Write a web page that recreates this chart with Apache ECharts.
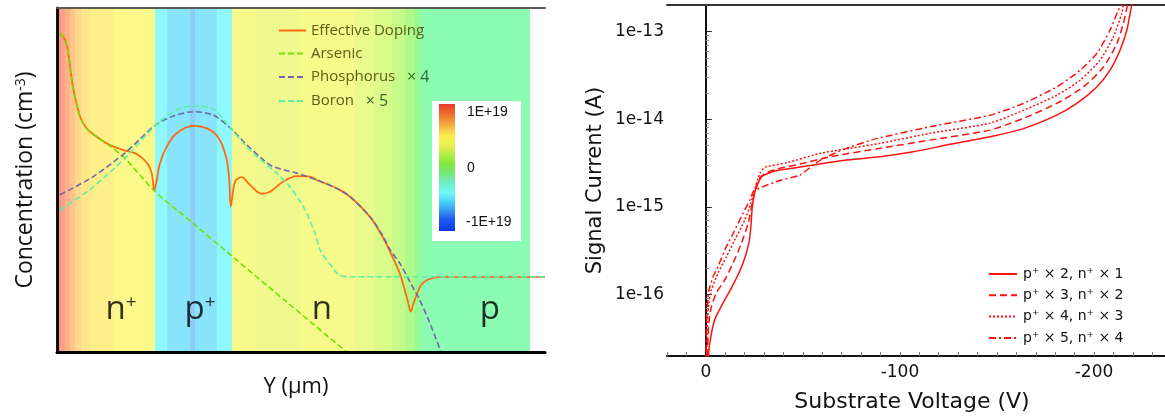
<!DOCTYPE html>
<html>
<head>
<meta charset="utf-8">
<script src="https://cdn.jsdelivr.net/npm/echarts@6/dist/echarts.min.js"></script>
<style>
  html, body { margin: 0; padding: 0; background: #fff; }
  #chart { width: 1165px; height: 417px; }
</style>
</head>
<body>
<div id="chart"></div>
<script>
// ---- left panel: doping profile, x in um, y = log10(concentration)
const effX = [0.031, 0.082, 0.116, 0.151, 0.184, 0.236, 0.304, 0.407, 0.543, 0.679, 0.817, 0.925, 0.970, 0.997,
  1.022, 1.055, 1.124, 1.226, 1.397, 1.568, 1.670, 1.739, 1.765, 1.780,
  1.824, 1.892, 1.977, 2.097, 2.182, 2.319, 2.456, 2.592, 2.661, 2.866, 3.002, 3.207, 3.343, 3.443, 3.514,
  3.555, 3.596, 3.624, 3.648, 3.678, 3.730, 3.807, 3.954, 5.0]
const effY = [20.49, 20.35, 20.08, 19.54, 19.20, 18.79, 18.55, 18.38, 18.21, 18.11, 18.03, 17.84, 17.64, 17.28,
  17.50, 17.84, 18.18, 18.45, 18.60, 18.52, 18.31, 17.91, 17.50, 16.96,
  17.47, 17.56, 17.40, 17.22, 17.26, 17.47, 17.58, 17.57, 17.50, 17.33, 17.16, 16.75, 16.32, 15.91, 15.59,
  15.32, 15.02, 14.82, 14.96, 15.13, 15.36, 15.48, 15.53, 15.53]

const arsX = [0.031, 0.082, 0.116, 0.151, 0.184, 0.236, 0.304, 0.407, 0.543, 0.697, 0.997, 1.393, 1.793, 2.346, 2.961, 3.0]
const arsY = [20.49, 20.35, 20.08, 19.54, 19.20, 18.79, 18.55, 18.38, 18.19, 17.94, 17.28, 16.62, 15.95, 15.03, 14.01, 13.94]

const phosX = [0.031, 0.372, 0.714, 0.997, 1.192, 1.397, 1.602, 1.779, 1.943, 2.114, 2.216, 2.456, 2.661,
  2.866, 3.002, 3.207, 3.343, 3.412, 3.514, 3.624, 3.715, 3.807, 3.934, 3.955]
const phosY = [17.20, 17.57, 18.08, 18.60, 18.80, 18.89, 18.82, 18.55, 18.22, 17.91, 17.77, 17.64, 17.50,
  17.33, 17.16, 16.75, 16.35, 16.08, 15.80, 15.40, 15.06, 14.65, 14.01, 13.92]

const borX = [0.031, 0.372, 0.714, 0.997, 1.192, 1.397, 1.602, 1.779, 1.943, 2.046, 2.251, 2.387, 2.524, 2.643,
  2.695, 2.818, 2.890, 3.002, 5.0]
const borY = [16.89, 17.36, 17.98, 18.59, 18.89, 19.01, 18.94, 18.55, 18.18, 17.98, 17.64, 17.36, 16.96, 16.42,
  16.08, 15.73, 15.57, 15.53, 15.53]

const dopingNames = ['Effective Doping', 'Arsenic', 'Phosphorus', 'Boron']
const dopingFactor = ['', '', '× 4', '× 5']

// background bands (edges in um) and their colours
const bandEdges = [0, 0.041, 0.082, 0.133, 0.184, 0.246, 0.338, 0.574, 1.004, 1.127, 1.363, 1.414, 1.639, 1.793,
  2.029, 2.49, 3.053, 3.258, 3.432, 3.566, 3.668, 3.74, 4.846]
const bandColors = ['#ff9282', '#ffa088', '#ffb28a', '#ffc48a', '#ffd88a', '#ffe68b', '#fdef8a', '#fbf98a',
  '#8ef8fb', '#88e4fa', '#8ccdf8', '#88e4fa', '#8ef8fb', '#f7fa8a', '#f0f98e', '#f5fa8a', '#e8fb8c',
  '#d8fb8a', '#c6fb8a', '#aefb8a', '#95fb98', '#8cfbb4']

const regionNames = ['n+', 'p+', 'n', 'p']
const regionX = [0.656, 1.465, 2.715, 4.436]
const regionY = [14.87, 14.87, 14.87, 14.87]

// ---- right panel: signal current vs substrate voltage
const curveNames = ['p⁺ × 2, n⁺ × 1', 'p⁺ × 3, n⁺ × 2', 'p⁺ × 4, n⁺ × 3', 'p⁺ × 5, n⁺ × 4']
const v1 = [-0.8, -2.1, -4.6, -8.9, -14.1, -19.2, -22.2, -23.2, -23.9, -25.3, -28.7, -33.9, -38.1, -55.3, -72.5,
  -89.7, -106.9, -124.1, -146.4, -163.6, -180.8, -191.1, -201.4, -208.2, -213.4, -216.9, -218.6, -219.4, -220.5]
const i1 = [1.5e-17, 2.85e-17, 5.2e-17, 8.05e-17, 1.3e-16, 2.3e-16, 3.9e-16, 5.9e-16, 9.7e-16, 1.5e-15, 2.2e-15,
  2.5e-15, 2.63e-15, 3.0e-15, 3.42e-15, 3.73e-15, 4.25e-15, 5.07e-15, 6.3e-15, 7.8e-15, 1.11e-14, 1.51e-14,
  2.33e-14, 3.6e-14, 6.1e-14, 1.03e-13, 1.6e-13, 2.0e-13, 3e-13]
const v2 = [-0.5, -1.55, -2.94, -5.5, -9.8, -14.1, -18.4, -21.8, -23.9, -25.3, -27, -30.4, -36.4, -50.2, -63.9,
  -89.7, -115.5, -146.4, -163.6, -180.8, -194.5, -204.8, -211.7, -215.1, -217.2, -218.3]
const i2 = [1.5e-17, 4.8e-17, 7.4e-17, 1.05e-16, 1.48e-16, 2.3e-16, 3.9e-16, 6.5e-16, 1.1e-15, 1.5e-15, 2.03e-15,
  2.4e-15, 2.69e-15, 3.14e-15, 3.73e-15, 4.65e-15, 5.77e-15, 7.5e-15, 1.02e-14, 1.51e-14, 2.33e-14, 3.9e-14,
  7.2e-14, 1.23e-13, 2.0e-13, 3e-13]
const v3 = [-0.3, -0.88, -1.55, -2.94, -6.34, -10.7, -14.9, -20.1, -23.2, -24.9, -27.8, -30.4, -41.6, -58.8,
  -89.7, -115.5, -146.4, -163.6, -180.8, -192.8, -203.1, -209.9, -214.3, -215.1, -216.2]
const i3 = [1.5e-17, 4.8e-17, 8.05e-17, 1.14e-16, 1.77e-16, 2.72e-16, 4.2e-16, 7.1e-16, 1.1e-15, 1.5e-15, 2.4e-15,
  2.83e-15, 3.18e-15, 4.07e-15, 5.3e-15, 6.9e-15, 9.0e-15, 1.26e-14, 1.87e-14, 2.77e-14, 4.7e-14, 8.6e-14,
  1.6e-13, 2.0e-13, 3e-13]
const v4 = [0, -0.36, -0.88, -1.7, -3.76, -6.34, -9.8, -14.1, -19.2, -22.7, -24.9, -38.1, -48.5, -55.3, -60.5,
  -72.5, -88, -115.5, -146.4, -163.6, -180.8, -192.8, -201.4, -208.2, -212.5, -213.8, -214.8]
const i4 = [1.5e-17, 4.8e-17, 8.05e-17, 1.14e-16, 1.61e-16, 2.1e-16, 3.25e-16, 5.0e-16, 8.5e-16, 1.2e-15, 1.53e-15,
  2.0e-15, 2.31e-15, 3.0e-15, 3.57e-15, 4.65e-15, 6.0e-15, 8.2e-15, 1.11e-14, 1.51e-14, 2.33e-14, 3.6e-14,
  5.6e-14, 1.03e-13, 1.74e-13, 2.0e-13, 3e-13]
const curveDash = ['solid', [7, 4], [2, 2], [7, 3, 2, 3]]

const currentTicks = [1e-13, 1e-14, 1e-15, 1e-16]
const voltageLabels = [0, -100, -200]
const voltageTicks = []
for (let v = 20; v >= -230; v -= 10) voltageTicks.push(v)
const minorCurrentTicks = []
for (let d = -17; d <= -13; d++) {
  for (let k = 2; k <= 9; k++) {
    const t = k * Math.pow(10, d)
    if (t > 2e-17 && t < 2e-13) minorCurrentTicks.push(t)
  }
}

const zip = (xs, ys) => xs.map((x, i) => [x, ys[i]])

let chart = echarts.init(document.getElementById('chart'))

const bands = bandColors.map((c, i) => [
  { xAxis: bandEdges[i], itemStyle: { color: c, opacity: 1 } },
  { xAxis: bandEdges[i + 1] }
])

const barStops = [
  [0, '#e83c28'], [0.05, '#ec5a2c'], [0.1, '#f27a32'], [0.15, '#f5a040'], [0.2, '#f8c84a'],
  [0.26, '#f8ee50'], [0.33, '#e8f050'], [0.4, '#b0ec48'], [0.47, '#80e840'], [0.55, '#74e878'],
  [0.62, '#70eec8'], [0.7, '#70f8f8'], [0.77, '#48d0f8'], [0.84, '#3898f0'], [0.9, '#2060f0'], [1, '#0c38f0']
]

const legendText = '#5c5c14'
const sans = 'Open Sans'

chart.setOption({
  animation: false,
  grid: [
    { left: 57, top: 8, width: 488, height: 344, outerBoundsMode: 'none' },
    { left: 667, top: 5, width: 500, height: 351, outerBoundsMode: 'none' }
  ],
  xAxis: [
    {
      gridIndex: 0, type: 'value', min: 0, max: 5, z: 5,
      axisLine: { lineStyle: { color: '#000', width: 3 } },
      axisTick: { show: false }, axisLabel: { show: false }, splitLine: { show: false },
      name: 'Y (µm)', nameLocation: 'middle', nameGap: 24, nameMoveOverlap: false,
      nameTextStyle: { fontSize: 22, fontFamily: sans, color: '#111', padding: [0, 10, 0, 0] }
    },
    {
      gridIndex: 0, type: 'value', min: 0, max: 5, position: 'top', z: 5,
      axisLine: { lineStyle: { color: '#5a5a50', width: 2 } },
      axisTick: { show: false }, axisLabel: { show: false }, splitLine: { show: false }
    },
    {
      gridIndex: 1, type: 'value', min: -237.6, max: 20, inverse: true,
      axisLine: { lineStyle: { color: '#111', width: 2 } },
      axisTick: { inside: true, length: 4, customValues: voltageTicks, lineStyle: { color: '#777' } },
      axisLabel: { customValues: voltageLabels, margin: 8, fontSize: 17, fontFamily: 'DejaVu Sans', color: '#111',
        formatter: v => String(v) },
      splitLine: { show: false },
      name: 'Substrate Voltage (V)', nameLocation: 'middle', nameGap: 35, nameMoveOverlap: false,
      nameTextStyle: { fontSize: 22, fontFamily: 'DejaVu Sans', color: '#111', padding: [0, 10, 0, 0] }
    },
    {
      gridIndex: 1, type: 'value', min: -237.6, max: 20, inverse: true, position: 'top',
      axisLine: { lineStyle: { color: '#333', width: 2 } },
      axisTick: { show: false }, axisLabel: { show: false }, splitLine: { show: false }
    }
  ],
  yAxis: [
    {
      gridIndex: 0, type: 'value', min: 14, max: 21, z: 5,
      axisLine: { lineStyle: { color: '#000', width: 3 } },
      axisTick: { show: false }, axisLabel: { show: false }, splitLine: { show: false },
      name: 'Concentration (cm{sup|-3})', nameLocation: 'middle', nameGap: 20, nameMoveOverlap: false,
      nameTextStyle: { fontSize: 23, fontFamily: sans, color: '#111',
        rich: { sup: { fontSize: 14, fontFamily: sans, color: '#111', verticalAlign: 'top' } } }
    },
    {
      gridIndex: 0, type: 'value', min: 14, max: 21, position: 'right', z: 5,
      axisLine: { lineStyle: { color: '#111', width: 2 } },
      axisTick: { show: false }, axisLabel: { show: false }, splitLine: { show: false }
    },
    {
      gridIndex: 1, type: 'log', logBase: 10, min: 2e-17, max: 2e-13, position: 'left',
      axisLine: { lineStyle: { color: '#111', width: 2 } },
      axisTick: { inside: true, length: 6, customValues: currentTicks, lineStyle: { color: '#222' } },
      axisLabel: { customValues: currentTicks, margin: 3, fontSize: 17, fontFamily: 'DejaVu Sans', color: '#111',
        formatter: v => Number(v).toExponential(0).replace('+', '') },
      splitLine: { show: false },
      name: 'Signal Current (A)', nameLocation: 'middle', nameGap: 61, nameMoveOverlap: false,
      nameTextStyle: { fontSize: 21, fontFamily: 'DejaVu Sans', color: '#111' }
    },
    {
      gridIndex: 1, type: 'log', logBase: 10, min: 2e-17, max: 2e-13, position: 'left',
      axisLine: { show: false },
      axisTick: { inside: true, length: 3, customValues: minorCurrentTicks, lineStyle: { color: '#888' } },
      axisLabel: { show: false }, splitLine: { show: false }
    }
  ],
  legend: [
    {
      data: dopingNames, orient: 'vertical', left: 273, top: 18, itemWidth: 27, itemHeight: 14, itemGap: 8,
      itemStyle: { opacity: 0 },
      textStyle: { color: legendText, fontSize: 15, fontFamily: sans,
        rich: { m: { color: '#2f6a28', fontSize: 16, fontFamily: sans } } },
      formatter: name => {
        const f = dopingFactor[dopingNames.indexOf(name)]
        return f ? name + '   {m|' + f + '}' : name
      }
    },
    {
      data: curveNames, orient: 'vertical', left: 983, top: 262, itemWidth: 28, itemHeight: 14, itemGap: 7.3,
      itemStyle: { opacity: 0 },
      textStyle: { color: '#111', fontSize: 14, fontFamily: 'DejaVu Sans', padding: [0, 0, 0, 1] }
    }
  ],
  visualMap: [
    { type: 'piecewise', show: false, seriesIndex: 0, dimension: 0,
      pieces: [{ lt: 0.997, color: '#ff6a10' }, { gte: 0.997, lt: 1.78, color: '#8c6464' }, { gte: 1.78, color: '#ff6a10' }] },
    { type: 'piecewise', show: false, seriesIndex: 2, dimension: 0,
      pieces: [{ lt: 0.3, color: '#6a2c90' }, { gte: 0.3, lt: 0.997, color: '#7a6a9e' }, { gte: 0.997, lt: 1.79, color: '#2a5ee0' },
        { gte: 1.79, lt: 3.43, color: '#6e68a8' }, { gte: 3.43, color: '#2a6ad0' }] },
    { type: 'piecewise', show: false, seriesIndex: 3, dimension: 0,
      pieces: [{ lt: 0.997, color: '#5cb8a8' }, { gte: 0.997, lt: 1.79, color: '#30e4f4' }, { gte: 1.79, lt: 3.74, color: '#5af0a8' },
        { gte: 3.74, color: '#38e8e8' }] }
  ],
  graphic: [
    { type: 'rect', left: 432, top: 101, shape: { width: 89, height: 140 }, style: { fill: '#fff' }, z: 50 },
    { type: 'rect', left: 439, top: 104, shape: { width: 16, height: 127 }, z: 51,
      style: { fill: new echarts.graphic.LinearGradient(0, 0, 0, 1, barStops.map(s => ({ offset: s[0], color: s[1] }))) } },
    { type: 'text', left: 467, top: 105, z: 52, style: { text: '1E+19', fontSize: 14, fontFamily: 'Liberation Sans', fill: '#111' } },
    { type: 'text', left: 467, top: 161, z: 52, style: { text: '0', fontSize: 14, fontFamily: 'Liberation Sans', fill: '#111' } },
    { type: 'text', left: 466, top: 215, z: 52, style: { text: '-1E+19', fontSize: 14, fontFamily: 'Liberation Sans', fill: '#111' } }
  ],
  series: [
    {
      name: dopingNames[0], type: 'line', xAxisIndex: 0, yAxisIndex: 0, data: zip(effX, effY),
      symbol: 'none', smooth: 0.3, lineStyle: { width: 1.8, color: '#ff6a10' }, itemStyle: { color: '#ff6a10' },
      markArea: { silent: true, z: 1, label: { show: false }, data: bands }
    },
    {
      name: dopingNames[1], type: 'line', xAxisIndex: 0, yAxisIndex: 0, data: zip(arsX, arsY),
      symbol: 'none', smooth: 0.3, lineStyle: { width: 1.6, color: '#74e000', type: [6, 3] }, itemStyle: { color: '#74e000' }
    },
    {
      name: dopingNames[2], type: 'line', xAxisIndex: 0, yAxisIndex: 0, data: zip(phosX, phosY),
      symbol: 'none', smooth: 0.3, lineStyle: { width: 1.6, color: '#6e68a8', type: [6, 3] }, itemStyle: { color: '#6e68a8' }
    },
    {
      name: dopingNames[3], type: 'line', xAxisIndex: 0, yAxisIndex: 0, data: zip(borX, borY),
      symbol: 'none', smooth: 0.3, lineStyle: { width: 1.6, color: '#5af0a8', type: [6, 3] }, itemStyle: { color: '#5af0a8' }
    },
    {
      type: 'scatter', xAxisIndex: 0, yAxisIndex: 0, symbolSize: 0, silent: true, z: 4,
      data: regionNames.map((n, i) => ({ name: n, value: [regionX[i], regionY[i]] })),
      label: {
        show: true, position: 'inside',
        formatter: p => p.name.endsWith('+') ? '{b|' + p.name[0] + '}{s|+}' : '{b|' + p.name + '}',
        rich: {
          b: { fontSize: 33, fontFamily: sans, color: '#000' },
          s: { fontSize: 19, fontFamily: sans, color: '#000', verticalAlign: 'top' }
        }
      }
    },
    ...[[v1, i1], [v2, i2], [v3, i3], [v4, i4]].map((d, k) => ({
      name: curveNames[k], type: 'line', xAxisIndex: 2, yAxisIndex: 2, data: zip(d[0], d[1]),
      symbol: 'none', smooth: 0.2,
      lineStyle: { width: 1.5, color: '#ff1010', type: curveDash[k] }, itemStyle: { color: '#ff1010' }
    }))
  ]
})
</script>
</body>
</html>
